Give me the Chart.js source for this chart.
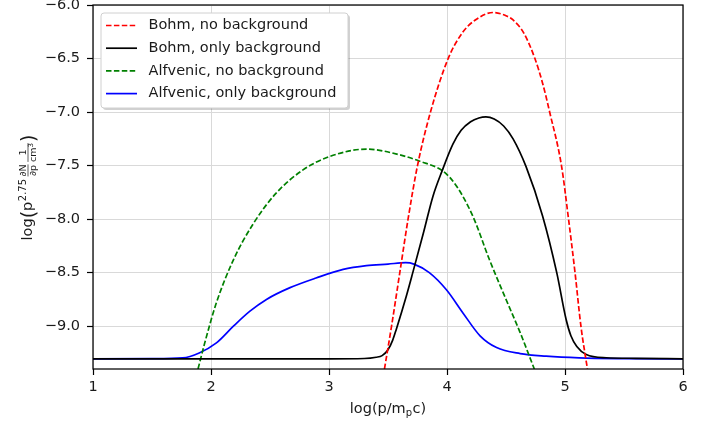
<!DOCTYPE html>
<html>
<head>
<meta charset="utf-8">
<script src="https://cdn.jsdelivr.net/npm/chart.js@4.4.1/dist/chart.umd.min.js"></script>
<style>
  html, body { margin: 0; padding: 0; background: #fff; }
  #wrap { width: 708px; height: 425px; }
</style>
</head>
<body>
<div id="wrap"><canvas id="spectrumChart"></canvas></div>
<script>
  // tick values
  const xTicks = [1, 2, 3, 4, 5, 6];
  const yTicks = [-9.0, -8.5, -8.0, -7.5, -7.0, -6.5, -6.0];

  const seriesNames = [
    "Bohm, no background",
    "Bohm, only background",
    "Alfvenic, no background",
    "Alfvenic, only background",
  ];

  // Bohm, no background (red dashed)
  const bohmNoBgX = [3.47, 3.53, 3.60, 3.67, 3.75, 3.86, 4.01, 4.13, 4.24, 4.39, 4.50, 4.56, 4.65, 4.745, 4.81, 4.87, 4.97, 5.03, 5.085, 5.135, 5.19];
  const bohmNoBgY = [-9.40, -9.0, -8.5, -8.0, -7.5, -7.0, -6.5, -6.26, -6.14, -6.07, -6.10, -6.14, -6.26, -6.5, -6.73, -7.0, -7.5, -8.0, -8.5, -9.0, -9.40];

  // Bohm, only background (black)
  const bohmBgX = [1.0, 1.5, 2.0, 2.5, 3.0, 3.3, 3.40, 3.45, 3.50, 3.54, 3.57, 3.655, 3.71, 3.80, 3.88, 3.96, 4.05, 4.12, 4.20, 4.27, 4.33, 4.40, 4.48, 4.56, 4.67, 4.81, 4.93, 5.01, 5.05, 5.10, 5.18, 5.35, 5.6, 6.0];
  const bohmBgY = [-9.305, -9.305, -9.305, -9.305, -9.305, -9.302, -9.29, -9.275, -9.22, -9.13, -9.03, -8.72, -8.50, -8.13, -7.79, -7.545, -7.30, -7.17, -7.09, -7.055, -7.045, -7.065, -7.13, -7.25, -7.51, -7.97, -8.50, -8.94, -9.09, -9.19, -9.265, -9.295, -9.300, -9.305];

  // Alfvenic, no background (green dashed)
  const alfNoBgX = [1.89, 1.947, 2.046, 2.19, 2.36, 2.55, 2.78, 3.006, 3.317, 3.60, 3.77, 3.97, 4.08, 4.22, 4.36, 4.50, 4.62, 4.74];
  const alfNoBgY = [-9.40, -9.156, -8.78, -8.38, -8.04, -7.76, -7.54, -7.415, -7.346, -7.40, -7.46, -7.555, -7.69, -7.975, -8.38, -8.75, -9.06, -9.40];

  // Alfvenic, only background (blue)
  const alfBgX = [1.0, 1.5, 1.76, 1.90, 2.046, 2.19, 2.33, 2.47, 2.67, 2.89, 3.12, 3.317, 3.50, 3.65, 3.72, 3.85, 3.995, 4.135, 4.28, 4.42, 4.62, 4.84, 5.12, 5.5, 6.0];
  const alfBgY = [-9.305, -9.303, -9.296, -9.25, -9.156, -9.0, -8.86, -8.75, -8.64, -8.55, -8.47, -8.435, -8.42, -8.407, -8.42, -8.50, -8.66, -8.876, -9.09, -9.20, -9.256, -9.28, -9.296, -9.303, -9.305];

  const textColor = "#1a1a1a";
  const fontFamily = '"DejaVu Sans", sans-serif';

  function toPoints(xs, ys) {
    return xs.map((x, i) => ({ x: x, y: ys[i] }));
  }

  function makeSet(label, xs, ys, color, dashed) {
    return {
      label: label,
      data: toPoints(xs, ys),
      borderColor: color,
      backgroundColor: color,
      borderWidth: 1.7,
      borderDash: dashed ? [5.5, 2.4] : [],
      pointRadius: 0,
      fill: false,
      cubicInterpolationMode: "monotone",
    };
  }

  function drawYTitle(ctx, cx, cy) {
    const main = "14.5px " + fontFamily;
    const big = "19px " + fontFamily;
    const sup = "10px " + fontFamily;
    const frac = "9.5px " + fontFamily;
    const tiny = "7px " + fontFamily;

    ctx.save();
    ctx.translate(cx, cy);
    ctx.rotate(-Math.PI / 2);
    ctx.fillStyle = textColor;
    ctx.strokeStyle = textColor;
    ctx.textBaseline = "alphabetic";
    ctx.textAlign = "left";

    ctx.font = main;
    const wLog = ctx.measureText("log").width;
    const wP = ctx.measureText("p").width;
    ctx.font = big;
    const wOpen = ctx.measureText("(").width;
    const wClose = ctx.measureText(")").width;
    ctx.font = sup;
    const wExp = ctx.measureText("2.75").width;
    ctx.font = frac;
    const wdN = ctx.measureText("\u2202N").width;
    const wdp = ctx.measureText("\u2202p").width;
    const wOne = ctx.measureText("1").width;
    const wCm = ctx.measureText("cm").width;
    ctx.font = tiny;
    const wCube = ctx.measureText("3").width;
    const wF1 = Math.max(wdN, wdp);
    const wF2 = Math.max(wOne, wCm + wCube);
    const gap = 2.5;
    const total = wLog + wOpen + wP + 0.5 + wExp + gap + wF1 + gap + wF2 + 1 + wClose;

    let u = -total / 2;
    ctx.font = main;
    ctx.fillText("log", u, 0);
    u += wLog;
    ctx.font = big;
    ctx.fillText("(", u, 3);
    u += wOpen;
    ctx.font = main;
    ctx.fillText("p", u, 0);
    u += wP + 0.5;
    ctx.font = sup;
    ctx.fillText("2.75", u, -6.5);
    u += wExp + gap;

    // first fraction
    ctx.font = frac;
    ctx.fillText("\u2202N", u + (wF1 - wdN) / 2, -5.8);
    ctx.fillText("\u2202p", u + (wF1 - wdp) / 2, 4);
    ctx.lineWidth = 0.7;
    ctx.beginPath();
    ctx.moveTo(u, -4);
    ctx.lineTo(u + wF1, -4);
    ctx.stroke();
    u += wF1 + gap;

    // second fraction
    ctx.fillText("1", u + (wF2 - wOne) / 2, -5.8);
    const cmStart = u + (wF2 - wCm - wCube) / 2;
    ctx.fillText("cm", cmStart, 4);
    ctx.font = tiny;
    ctx.fillText("3", cmStart + wCm, 0.5);
    ctx.beginPath();
    ctx.moveTo(u, -4);
    ctx.lineTo(u + wF2, -4);
    ctx.stroke();
    u += wF2 + 1;

    ctx.font = big;
    ctx.fillText(")", u, 3);
    ctx.restore();
  }

  function drawXTitle(ctx, cx, baseY) {
    const main = "14.5px " + fontFamily;
    const sub = "10px " + fontFamily;
    ctx.save();
    ctx.fillStyle = textColor;
    ctx.textBaseline = "alphabetic";
    ctx.textAlign = "left";
    ctx.font = main;
    const wA = ctx.measureText("log(p/m").width;
    const wC = ctx.measureText("c)").width;
    ctx.font = sub;
    const wSub = ctx.measureText("p").width;
    const total = wA + wSub + 0.5 + wC;
    let x = cx - total / 2;
    ctx.font = main;
    ctx.fillText("log(p/m", x, baseY);
    x += wA;
    ctx.font = sub;
    ctx.fillText("p", x, baseY + 3);
    x += wSub + 0.5;
    ctx.font = main;
    ctx.fillText("c)", x, baseY);
    ctx.restore();
  }

  const decorations = {
    id: "decorations",
    afterDraw(chart) {
      const ctx = chart.ctx;
      const a = chart.chartArea;

      // frame on all four sides
      ctx.save();
      ctx.strokeStyle = "#000";
      ctx.lineWidth = 1.25;
      ctx.strokeRect(a.left, a.top, a.right - a.left, a.bottom - a.top);
      ctx.restore();

      drawYTitle(ctx, 32, (a.top + a.bottom) / 2 + 0.5);
      drawXTitle(ctx, (a.left + a.right) / 2, 412.5);

      // legend box
      const bx = a.left + 8, by = a.top + 8, bw = 247, bh = 95, r = 3;
      function boxPath(x, y) {
        ctx.beginPath();
        ctx.moveTo(x + r, y);
        ctx.lineTo(x + bw - r, y);
        ctx.quadraticCurveTo(x + bw, y, x + bw, y + r);
        ctx.lineTo(x + bw, y + bh - r);
        ctx.quadraticCurveTo(x + bw, y + bh, x + bw - r, y + bh);
        ctx.lineTo(x + r, y + bh);
        ctx.quadraticCurveTo(x, y + bh, x, y + bh - r);
        ctx.lineTo(x, y + r);
        ctx.quadraticCurveTo(x, y, x + r, y);
        ctx.closePath();
      }
      ctx.save();
      boxPath(bx + 2, by + 2);
      ctx.fillStyle = "rgba(0,0,0,0.18)";
      ctx.fill();
      boxPath(bx, by);
      ctx.fillStyle = "#fff";
      ctx.fill();
      ctx.strokeStyle = "#d0d0d0";
      ctx.lineWidth = 1;
      ctx.stroke();

      ctx.font = "14.5px " + fontFamily;
      ctx.textBaseline = "middle";
      ctx.textAlign = "left";
      chart.data.datasets.forEach((ds, i) => {
        const ly = by + 12.5 + i * 22.7;
        ctx.strokeStyle = ds.borderColor;
        ctx.lineWidth = ds.borderWidth;
        ctx.setLineDash(ds.borderDash);
        ctx.beginPath();
        ctx.moveTo(bx + 5, ly);
        ctx.lineTo(bx + 36, ly);
        ctx.stroke();
        ctx.setLineDash([]);
        ctx.fillStyle = textColor;
        ctx.fillText(ds.label, bx + 47.5, ly);
      });
      ctx.restore();
    },
  };

  new Chart(document.getElementById("spectrumChart").getContext("2d"), {
    type: "line",
    data: {
      datasets: [
        makeSet(seriesNames[0], bohmNoBgX, bohmNoBgY, "#ff0000", true),
        makeSet(seriesNames[1], bohmBgX, bohmBgY, "#000000", false),
        makeSet(seriesNames[2], alfNoBgX, alfNoBgY, "#008000", true),
        makeSet(seriesNames[3], alfBgX, alfBgY, "#0000ff", false),
      ],
    },
    options: {
      responsive: true,
      maintainAspectRatio: false,
      animation: false,
      layout: { padding: { left: 0, right: 25, top: 5, bottom: 0 } },
      plugins: {
        legend: { display: false },
        tooltip: { enabled: false },
      },
      scales: {
        x: {
          type: "linear",
          min: 1,
          max: 6,
          afterBuildTicks: (scale) => {
            scale.ticks = xTicks.map((v) => ({ value: v }));
          },
          afterFit: (scale) => {
            scale.height = 56;
            scale.paddingLeft = 0;
            scale.paddingRight = 0;
          },
          grid: { color: "#d9d9d9", lineWidth: 1, tickColor: "#000", tickLength: 6, tickWidth: 1.2 },
          border: { display: false },
          ticks: {
            color: textColor,
            padding: 4,
            maxRotation: 0,
            font: { family: fontFamily, size: 14.5 },
            callback: (v) => String(v),
          },
        },
        y: {
          type: "linear",
          min: -9.4,
          max: -6.0,
          afterBuildTicks: (scale) => {
            scale.ticks = yTicks.map((v) => ({ value: v }));
          },
          afterFit: (scale) => {
            scale.width = 93;
            scale.paddingTop = 0;
            scale.paddingBottom = 0;
          },
          grid: { color: "#d9d9d9", lineWidth: 1, tickColor: "#000", tickLength: 6, tickWidth: 1.2 },
          border: { display: false },
          ticks: {
            color: textColor,
            padding: 7,
            font: { family: fontFamily, size: 14.5 },
            callback: (v) => (v < 0 ? "\u2212" : "") + Math.abs(v).toFixed(1),
          },
        },
      },
    },
    plugins: [decorations],
  });
</script>
</body>
</html>
